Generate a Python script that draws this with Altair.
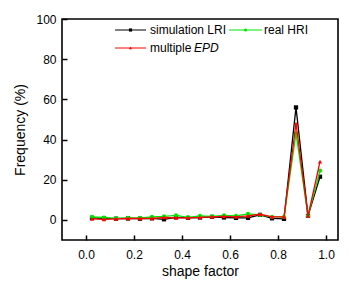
import altair as alt
import pandas as pd

shape_factor = [0.025, 0.075, 0.125, 0.175, 0.225, 0.275, 0.325, 0.375, 0.425, 0.475,
                0.525, 0.575, 0.625, 0.675, 0.725, 0.775, 0.825, 0.875, 0.925, 0.975]
sim_lri = [1.0, 0.8, 0.6, 0.7, 0.6, 0.8, 0.3, 1.3, 1.0, 1.2,
           1.5, 1.2, 1.0, 1.0, 2.5, 0.8, 0.5, 56.0, 2.0, 21.5]
real_hri = [1.5, 1.2, 0.8, 1.0, 1.0, 1.5, 1.8, 2.3, 1.3, 2.0,
            1.8, 2.3, 2.0, 3.0, 2.5, 1.5, 1.5, 43.0, 2.0, 24.5]
multi_epd = [0.5, 0.3, 0.5, 0.7, 0.7, 0.8, 1.2, 1.0, 1.0, 1.3,
             1.5, 1.8, 1.5, 2.0, 2.8, 1.5, 1.5, 48.0, 2.0, 29.0]

series_names = ["simulation LRI", "real HRI", "multiple EPD"]
series_colors = ["#000000", "#00e600", "#ff0000"]
series_shapes = ["square", "circle", "triangle-up"]
x_ticks = [0.0, 0.2, 0.4, 0.6, 0.8, 1.0]
y_ticks = [0, 20, 40, 60, 80, 100]

FONT = "Liberation Sans"

xscale = alt.Scale(domain=[-0.1, 1.05], nice=False, zero=False)
yscale = alt.Scale(domain=[-10, 100], nice=False, zero=False)

xaxis = alt.Axis(values=x_ticks, format=".1f", title="shape factor", grid=False,
                 domain=False, offset=-5, tickSize=5, labelPadding=9,
                 titlePadding=4)
yaxis = alt.Axis(values=y_ticks, format="d", title="Frequency (%)", grid=False,
                 domain=False, offset=-5, tickSize=5, labelPadding=6,
                 titlePadding=8)

layers = []
for name, vals, col, shp in zip(series_names, [sim_lri, real_hri, multi_epd],
                                series_colors, series_shapes):
    df = pd.DataFrame({"x": shape_factor, "y": vals})
    layers.append(
        alt.Chart(df).mark_line(
            color=col, strokeWidth=1.3,
            point=alt.OverlayMarkDef(shape=shp, size=18, filled=True, color=col, opacity=1),
        ).encode(
            x=alt.X("x:Q", scale=xscale, axis=xaxis),
            y=alt.Y("y:Q", scale=yscale, axis=yaxis),
        )
    )

one = pd.DataFrame({"a": [0]})
# legend entries: (line x0, x1, y, text x)
legend_pos = [(53, 84, 11, 88), (167, 200, 11, 202), (53, 84, 29, 88)]
for name, col, shp, (x0, x1, yy, tx) in zip(series_names, series_colors, series_shapes, legend_pos):
    layers.append(alt.Chart(one).mark_rule(color=col, strokeWidth=1).encode(
        x=alt.value(x0), x2=alt.value(x1), y=alt.value(yy)))
    layers.append(alt.Chart(one).mark_point(shape=shp, size=10, filled=True, color=col, opacity=1).encode(
        x=alt.value((x0 + x1) / 2), y=alt.value(yy)))
    if name == "multiple EPD":
        layers.append(alt.Chart(one).mark_text(align="left", baseline="middle", font=FONT,
                                               fontSize=12, color="black").encode(
            x=alt.value(tx), y=alt.value(yy), text=alt.value("multiple")))
        layers.append(alt.Chart(one).mark_text(align="left", baseline="middle", font=FONT,
                                               fontSize=12, fontStyle="italic", color="black").encode(
            x=alt.value(tx + 44), y=alt.value(yy), text=alt.value("EPD")))
    else:
        layers.append(alt.Chart(one).mark_text(align="left", baseline="middle", font=FONT,
                                               fontSize=12, color="black").encode(
            x=alt.value(tx), y=alt.value(yy), text=alt.value(name)))

chart = alt.layer(*layers).properties(
    width=276, height=221,
    autosize=alt.AutoSizeParams(type="none"),
    padding={"left": 54, "top": 11, "right": 3, "bottom": 40},
).configure_view(
    stroke="black", strokeWidth=1.6
).configure_axis(
    labelFont=FONT, titleFont=FONT, labelFontSize=12, titleFontSize=14,
    titleFontWeight="normal", labelColor="black", titleColor="black",
    tickColor="black", tickWidth=1.5,
)

chart.save("out.html", embed_options={"renderer": "svg", "actions": False})
